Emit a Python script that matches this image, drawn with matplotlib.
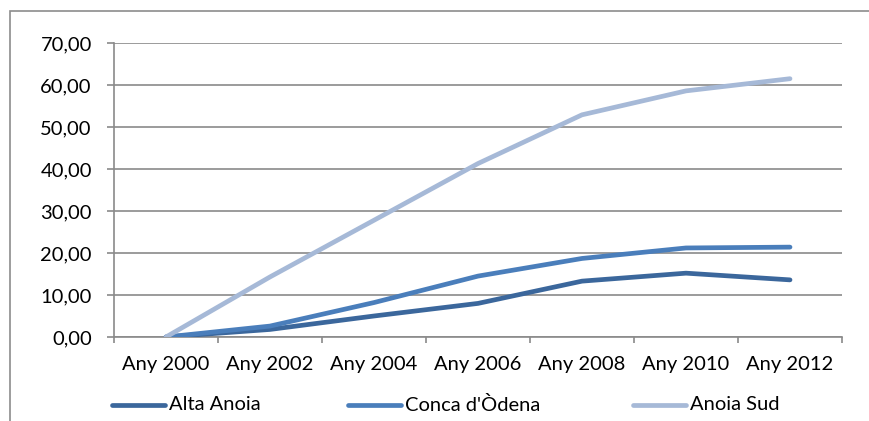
import matplotlib
matplotlib.use("Agg")
import matplotlib.pyplot as plt
from matplotlib.lines import Line2D
from matplotlib.patches import Rectangle

plt.rcParams['font.family'] = ['Lato', 'DejaVu Sans']

# dades llegides del grafic
anys = ["Any 2000", "Any 2002", "Any 2004", "Any 2006", "Any 2008", "Any 2010", "Any 2012"]
alta_anoia = [0.0, 1.8, 5.0, 8.0, 13.3, 15.2, 13.6]
conca_odena = [0.0, 2.6, 8.2, 14.5, 18.7, 21.2, 21.4]
anoia_sud = [0.0, 14.3, 27.8, 41.3, 52.9, 58.6, 61.5]
noms = ["Alta Anoia", "Conca d'Òdena", "Anoia Sud"]
colors = ["#3B679C", "#4A7EBB", "#A6B9D7"]
series = [alta_anoia, conca_odena, anoia_sud]

W, H = 869, 421
FS = 14.5
fig = plt.figure(figsize=(W / 100, H / 100), dpi=100)
ax = fig.add_axes([114 / W, (H - 337) / H, (842 - 114) / W, (337 - 43) / H])

# marc exterior del grafic
fig.add_artist(Rectangle((10 / W, -0.1), 2, (H - 10.5) / H + 0.1, transform=fig.transFigure,
                         fill=False, edgecolor="#8c8c8c", linewidth=1.2))

x = list(range(len(anys)))
for vals, c in zip(series, colors):
    ax.plot(x, vals, color=c, linewidth=3.4, solid_capstyle="round", solid_joinstyle="round", zorder=3)

ax.set_xlim(-0.5, len(anys) - 0.5)
ax.set_ylim(0, 70)
ax.set_yticks(range(0, 71, 10))
ax.set_yticklabels(["%d,00" % v for v in range(0, 71, 10)])
ax.yaxis.grid(True, color="#8a8a8a", linewidth=1.2)
ax.set_axisbelow(True)

ax.set_xticks(x)
ax.set_xticklabels(anys)
ax.set_xticks([i - 0.5 for i in range(len(anys) + 1)], minor=True)
ax.tick_params(axis="x", which="major", length=0, pad=14, labelsize=FS, colors="black")
ax.tick_params(axis="x", which="minor", length=4.3, width=1.2, color="#8a8a8a")
ax.tick_params(axis="y", length=5, width=1.2, color="#8a8a8a", pad=11, labelsize=FS)

for s in ["top", "right"]:
    ax.spines[s].set_visible(False)
for s in ["left", "bottom"]:
    ax.spines[s].set_color("#8a8a8a")
    ax.spines[s].set_linewidth(1.2)

# llegenda feta a ma
leg_x = [112, 348, 633]
for lx, nom, c in zip(leg_x, noms, colors):
    fig.add_artist(Line2D([lx / W, (lx + 53) / W], [(H - 405) / H] * 2, transform=fig.transFigure,
                          color=c, linewidth=3.4, solid_capstyle="round"))
    fig.text((lx + 57) / W, (H - 405) / H, nom, fontsize=FS, va="center", ha="left")

fig.savefig("out.png", dpi=100)
